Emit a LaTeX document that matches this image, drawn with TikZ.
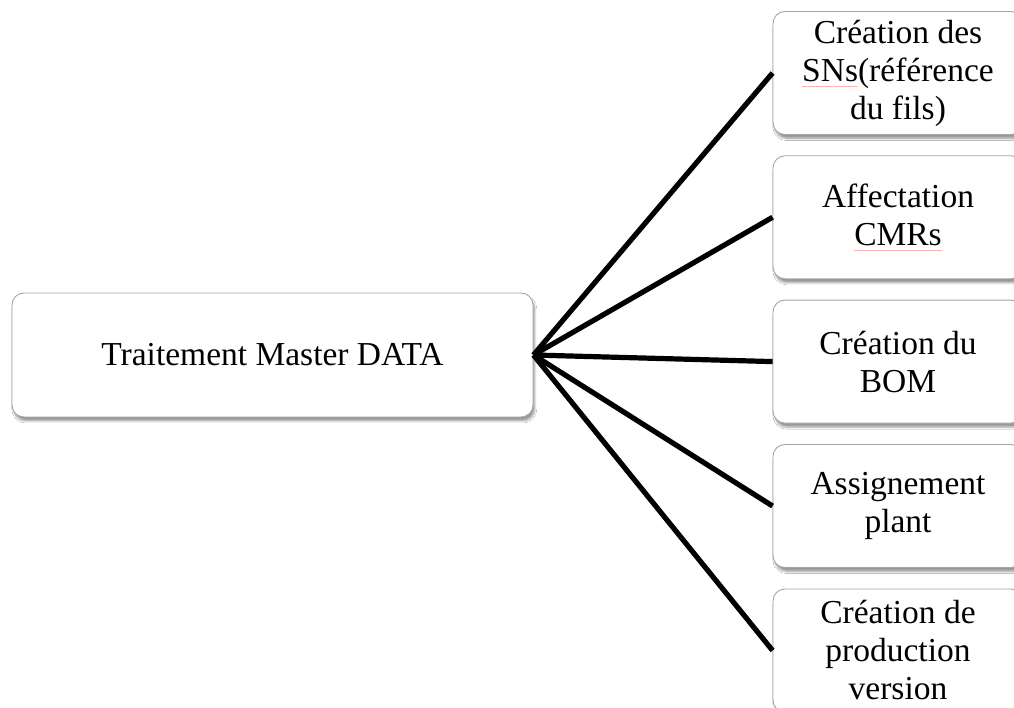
\documentclass[tikz,border=0pt]{standalone}
\usepackage{fontspec}
\setmainfont{Liberation Serif}
\usetikzlibrary{shadows.blur}
% faint spell-check underline under a word
\newcommand\squig[1]{\setbox0\hbox{#1}\rlap{\color{red!30}\rule[-6pt]{\wd0}{1pt}}\box0}
\tikzset{
  card/.style={rectangle, rounded corners=12pt, draw=gray!70, line width=0.9pt,
    fill=white, align=center, inner sep=0pt,
    font=\fontsize{33.5}{38}\selectfont,
    blur shadow={shadow xshift=1.8pt, shadow yshift=-4pt, shadow blur radius=2pt,
      shadow blur steps=6, shadow opacity=40}},
  rootbox/.style={card, minimum width=521pt, minimum height=124pt},
  leafbox/.style={card, minimum width=250pt, minimum height=123pt},
  link/.style={line width=5.2pt, black}
}
\begin{document}
\begin{tikzpicture}[x=1pt,y=1pt]
\useasboundingbox (0,0) rectangle (1014,707);
\clip (0,0) rectangle (1014,707);
\fill[white] (0,0) rectangle (1014,707);

\node[rootbox] (root) at (272.5,352) {Traitement Master DATA};

\node[leafbox] (l1) at (898,634)   {Création des\\\squig{SNs}(référence\\du fils)};
\node[leafbox] (l2) at (898,489.7) {Affectation\\\squig{CMRs}};
\node[leafbox] (l3) at (898,345.4) {Création du\\BOM};
\node[leafbox] (l4) at (898,201)   {Assignement\\plant};
\node[leafbox] (l5) at (898,56.5)  {Création de\\production\\version};

\coordinate (hub) at (root.east);
\foreach \n in {l1,l2,l3,l4,l5}
  \draw[link] (hub) -- (\n.west);
\end{tikzpicture}
\end{document}
